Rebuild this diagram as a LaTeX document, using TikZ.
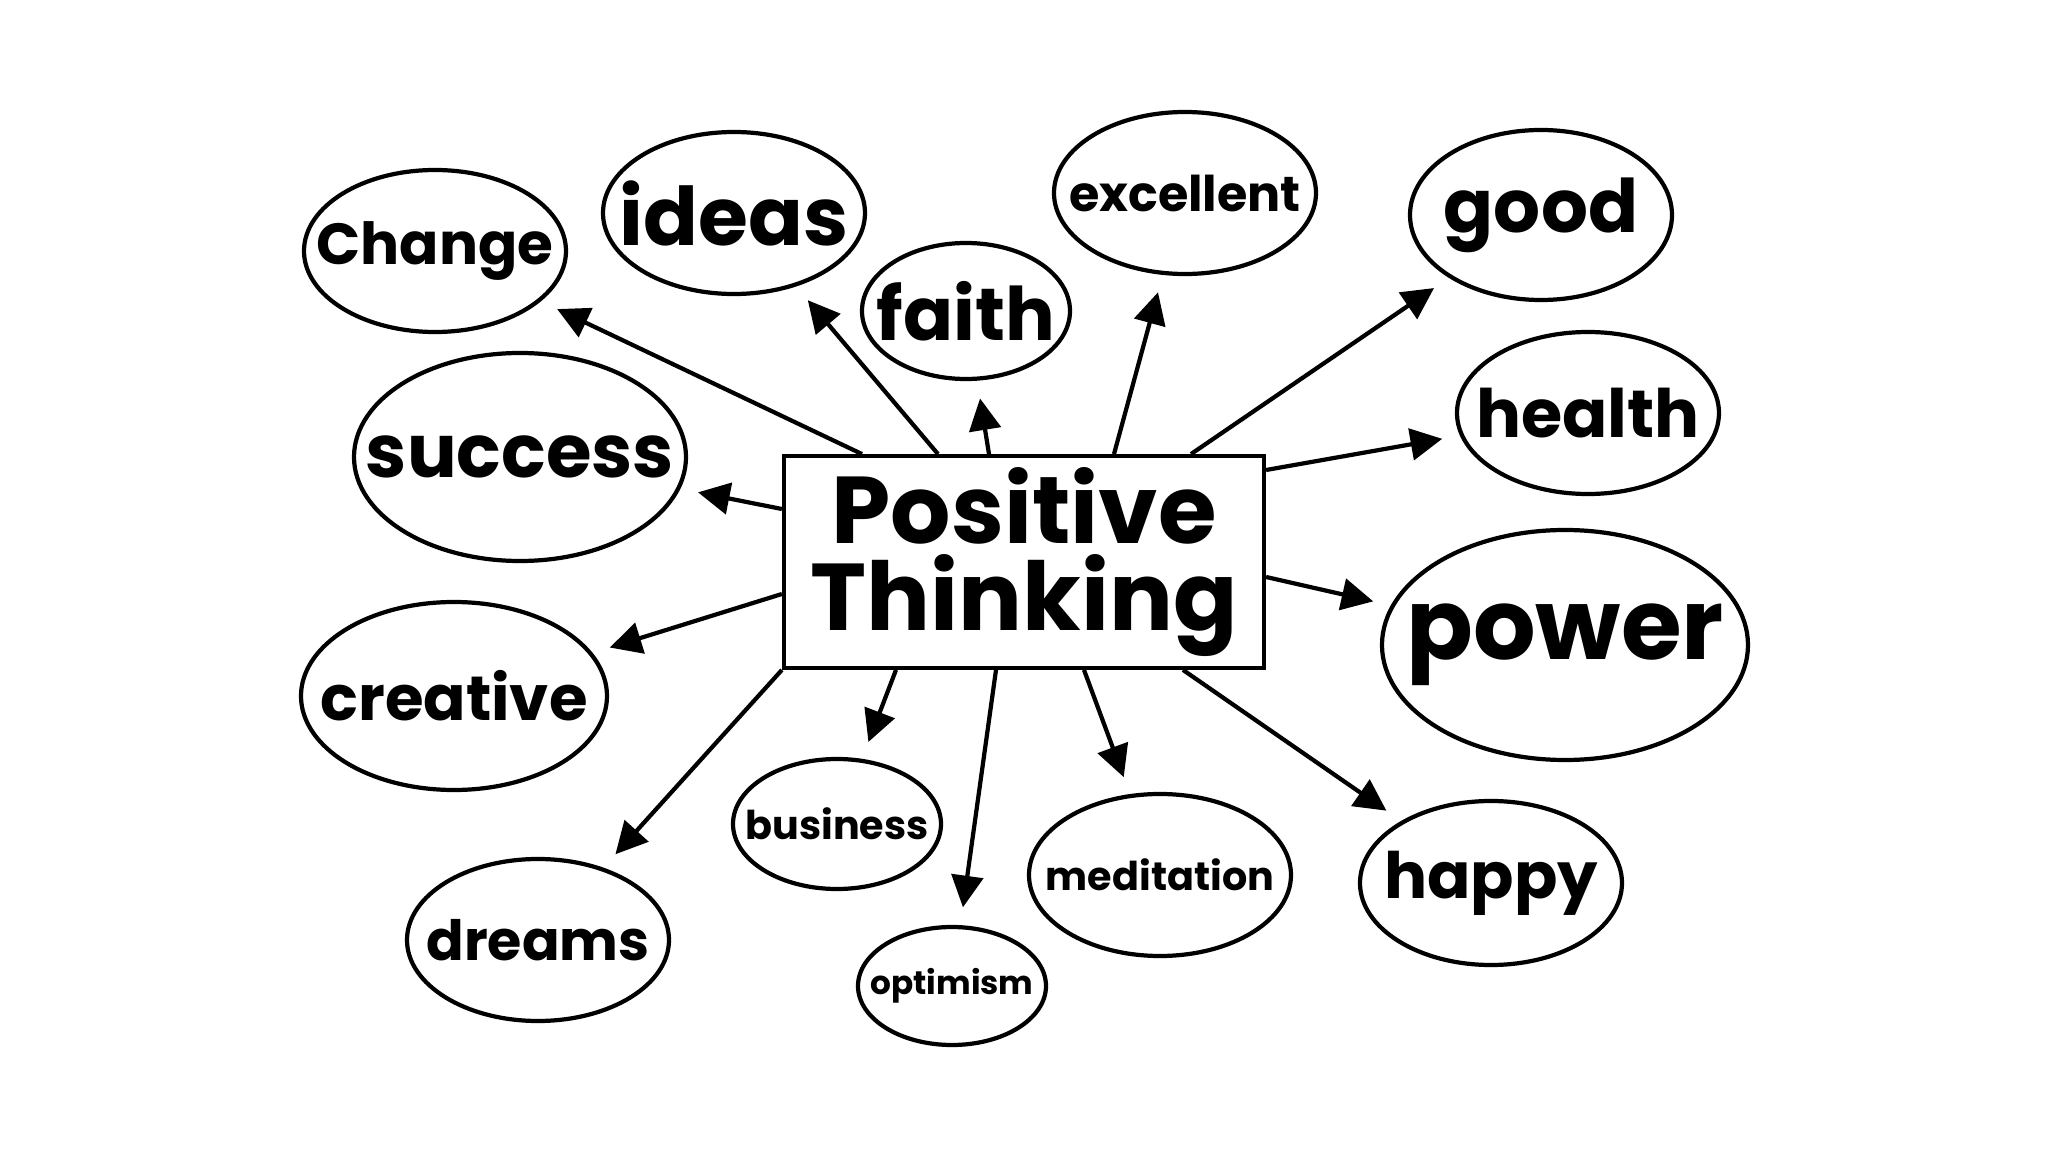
\documentclass[tikz,border=0pt]{standalone}
\usepackage{fontspec}
\setmainfont{Poppins}
\usetikzlibrary{arrows.meta, shapes.geometric}

\begin{document}
\begin{tikzpicture}[
    line width=1.2pt,
    bubble/.style={draw, ellipse, inner sep=0pt},
    fs/.style={font=\bfseries\fontsize{#1}{#1}\selectfont},
    core/.style={draw, rectangle, align=center, minimum width=4.8cm,
      minimum height=2.04cm, font=\bfseries\fontsize{27}{24.5}\selectfont},
    arrow/.style={-{Triangle[length=9pt, width=9pt]}, shorten >=1.8mm}
  ]
  \useasboundingbox (0,0) rectangle (20.48,-11.52);
  \node[core] at (10.24,-5.62) (pt) {Positive\\Thinking};

  % word sits in a zero-width box so the ellipse keeps its own size
  \node[bubble, fs=16.5, minimum width=2.62cm, minimum height=1.62cm] at (4.35,-2.51) (change) {\makebox[0pt]{Change}};
  \node[bubble, fs=23, minimum width=2.62cm, minimum height=1.62cm] at (7.34,-2.13) (ideas) {\makebox[0pt]{ideas}};
  \node[bubble, fs=21, minimum width=2.08cm, minimum height=1.36cm] at (9.66,-3.11) (faith) {\makebox[0pt]{faith}};
  \node[bubble, fs=14, minimum width=2.62cm, minimum height=1.62cm] at (11.85,-1.93) (excellent) {\makebox[0pt]{excellent}};
  \node[bubble, fs=21, minimum width=2.62cm, minimum height=1.70cm] at (15.41,-2.15) (good) {\makebox[0pt]{good}};
  \node[bubble, fs=19, minimum width=2.62cm, minimum height=1.62cm] at (15.88,-4.13) (health) {\makebox[0pt]{health}};
  \node[bubble, fs=21, minimum width=3.32cm, minimum height=2.08cm] at (5.20,-4.57) (success) {\makebox[0pt]{success}};
  \node[bubble, fs=28, minimum width=3.66cm, minimum height=2.30cm] at (15.65,-6.45) (power) {\makebox[0pt]{power}};
  \node[bubble, fs=17.8, minimum width=3.06cm, minimum height=1.88cm] at (4.54,-6.96) (creative) {\makebox[0pt]{creative}};
  \node[bubble, fs=11.3, minimum width=2.08cm, minimum height=1.30cm] at (8.37,-8.24) (business) {\makebox[0pt]{business}};
  \node[bubble, fs=9.3, minimum width=1.88cm, minimum height=1.18cm] at (9.52,-9.86) (optimism) {\makebox[0pt]{optimism}};
  \node[bubble, fs=11.3, minimum width=2.62cm, minimum height=1.62cm] at (11.60,-8.75) (meditation) {\makebox[0pt]{meditation}};
  \node[bubble, fs=18.2, minimum width=2.62cm, minimum height=1.64cm] at (14.91,-8.83) (happy) {\makebox[0pt]{happy}};
  \node[bubble, fs=15.8, minimum width=2.62cm, minimum height=1.62cm] at (5.38,-9.40) (dreams) {\makebox[0pt]{dreams}};

  % top edge
  \draw[arrow] ([xshift=-1.62cm]pt.north) -- (change);
  \draw[arrow] ([xshift=-0.86cm]pt.north) -- (ideas);
  \draw[arrow] ([xshift=-0.35cm]pt.north) -- (faith);
  \draw[arrow] ([xshift=0.90cm]pt.north) -- (excellent);
  \draw[arrow] ([xshift=1.67cm]pt.north) -- (good);
  % sides
  \draw[arrow] ([yshift=0.92cm]pt.east) -- (health);
  \draw[arrow] ([yshift=-0.15cm]pt.east) -- (power);
  \draw[arrow] ([yshift=0.53cm]pt.west) -- (success);
  \draw[arrow] ([yshift=-0.32cm]pt.west) -- (creative);
  % bottom edge
  \draw[arrow] (pt.south west) -- (dreams);
  \draw[arrow] ([xshift=-1.28cm]pt.south) -- (business);
  \draw[arrow] ([xshift=-0.28cm]pt.south) -- (optimism);
  \draw[arrow] ([xshift=0.60cm]pt.south) -- (meditation);
  \draw[arrow] ([xshift=1.59cm]pt.south) -- (happy);
\end{tikzpicture}
\end{document}
